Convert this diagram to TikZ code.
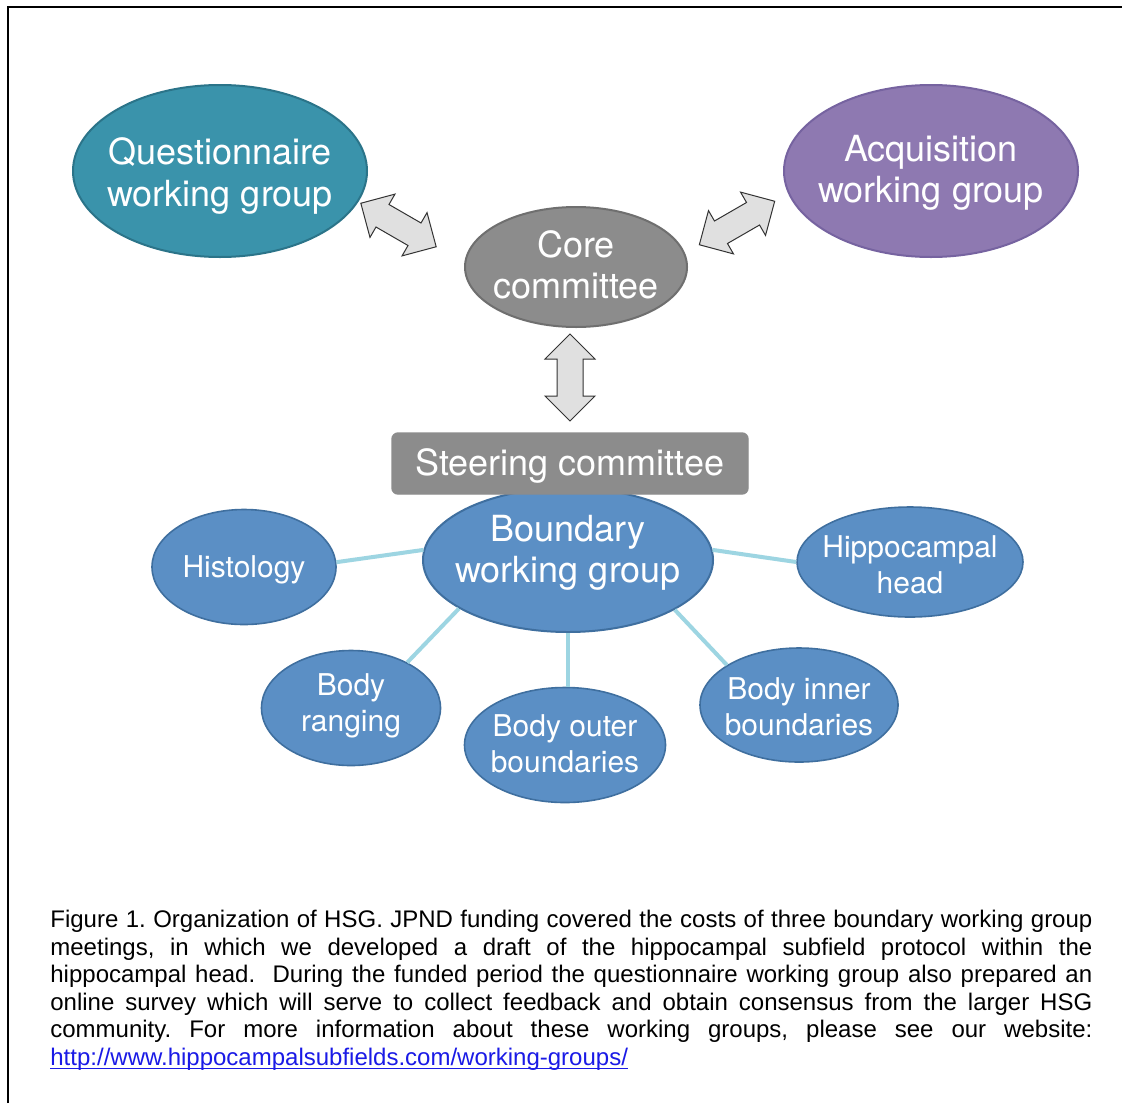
\documentclass[tikz,border=0pt]{standalone}
\usepackage{fontspec}
\setmainfont{Liberation Sans}
\newfontfamily\nodefont{TeX Gyre Heros}
\usetikzlibrary{shapes.geometric}
\definecolor{qfill}{HTML}{3A93AB}
\definecolor{qdraw}{HTML}{2B7489}
\definecolor{afill}{HTML}{8E79B1}
\definecolor{adraw}{HTML}{7663A0}
\definecolor{gfill}{HTML}{8C8C8C}
\definecolor{gdraw}{HTML}{6F6F6F}
\definecolor{bfill}{HTML}{5B8FC5}
\definecolor{bdraw}{HTML}{3F6F9F}
\definecolor{linkc}{HTML}{9DD5E2}
\definecolor{arrfill}{HTML}{E0E0E0}
\definecolor{urlc}{HTML}{1A1AE6}
\tikzset{
  bigell/.style={ellipse, line width=1pt, inner sep=0pt},
  smallell/.style={ellipse, line width=0.8pt, inner sep=0pt, fill=bfill, draw=bdraw},
  bigtxt/.style={inner sep=0pt, align=center, text=white,
    font=\nodefont\fontsize{18}{20.7}\selectfont},
  smalltxt/.style={inner sep=0pt, align=center, text=white,
    font=\nodefont\fontsize{15}{18}\selectfont},
  linkline/.style={draw=linkc, line width=2pt},
  arrstyle/.style={draw=black!80, fill=arrfill, line width=0.5pt, line join=miter},
  dblarrow/.pic={\path[arrstyle] (-43.5,0) -- (-18.5,25) -- (-18.5,13) -- (18.5,13) -- (18.5,25) -- (43.5,0) -- (18.5,-25) -- (18.5,-13) -- (-18.5,-13) -- (-18.5,-25) -- cycle;}
}
\begin{document}
\begin{tikzpicture}[x=0.5pt,y=-0.5pt]
\useasboundingbox (0,0) rectangle (1122,1103);
\fill[white] (0,0) rectangle (1122,1103);
\draw[line width=1pt] (8,1103) -- (8,7) -- (1122,7);

% top ellipses
\node[bigell, fill=qfill, draw=qdraw, minimum width=147pt, minimum height=86pt] (quest) at (220,171) {};
\node[bigtxt, yshift=-2.5pt] (questT) at (quest.center) {Questionnaire\\working group};
\node[bigell, fill=afill, draw=adraw, minimum width=147pt, minimum height=86pt] (acq) at (931,171) {};
\node[bigtxt, yshift=-1pt] (acqT) at (acq.center) {Acquisition\\working group};
\node[bigell, fill=gfill, draw=gdraw, minimum width=111pt, minimum height=60pt] (core) at (576,267) {};
\node[bigtxt, yshift=1pt] (coreT) at (core.center) {Core\\committee};

% block arrows
\pic at (398.5,225) [rotate=-30] {dblarrow};
\pic at (737,223) [rotate=30] {dblarrow};
\pic at (570,377.5) [rotate=90] {dblarrow};

% boundary working group and steering committee
\node[bigell, fill=bfill, draw=bdraw, minimum width=145pt, minimum height=72pt] (bwg) at (568,560) {};
\node[bigtxt, yshift=3.5pt] (bwgT) at (bwg.center) {Boundary\\working group};
\node[rectangle, rounded corners=3pt, fill=gfill, draw=gdraw!80, line width=0.7pt, inner sep=0pt,
  minimum width=178pt, minimum height=30.5pt] (steer) at (570,463.5) {};
\node[bigtxt, yshift=-1pt] (steerT) at (steer.center) {Steering committee};

% small ellipses
\node[smallell, minimum width=92pt, minimum height=57.5pt] (hist) at (244,567) {};
\node[smalltxt, yshift=-1.5pt] (histT) at (hist.center) {Histology};
\node[smallell, minimum width=113pt, minimum height=55pt] (hip) at (910,562) {};
\node[smalltxt, yshift=-1.5pt] (hipT) at (hip.center) {Hippocampal\\head};
\node[smallell, minimum width=89.5pt, minimum height=57.5pt] (rang) at (351,708) {};
\node[smalltxt, yshift=1pt] (rangT) at (rang.center) {Body\\ranging};
\node[smallell, minimum width=100.5pt, minimum height=57.5pt] (outer) at (565,745) {};
\node[smalltxt, yshift=0.5pt] (outerT) at (outer.center) {Body outer\\boundaries};
\node[smallell, minimum width=99pt, minimum height=57pt] (inner) at (799,705) {};
\node[smalltxt, yshift=-1pt] (innerT) at (inner.center) {Body inner\\boundaries};

% connectors
\draw[linkline] (hist.3) -- (bwg.176);
\draw[linkline] (bwg.4) -- (hip.180);
\draw[linkline] (bwg.204) -- (rang.39);
\draw[linkline] (bwg.south) -- (bwg.south |- outer.north);
\draw[linkline] (bwg.335) -- (inner.151);

% caption
\node[anchor=north west, inner sep=0pt, text width=521pt, align=justify,
  font=\fontsize{12}{13.75}\selectfont] (cap) at (50,910) {\frenchspacing Figure 1. Organization of HSG. JPND funding covered the costs of three boundary working group\linebreak
meetings, in which we developed a draft of the hippocampal subfield protocol within the\linebreak
hippocampal head.\ \ During the funded period the questionnaire working group also prepared an\linebreak
online survey which will serve to collect feedback and obtain consensus from the larger HSG\linebreak
community. For more information about these working groups, please see our website:\linebreak
\textcolor{urlc}{\setbox0\hbox{http://www.hippocampalsubfields.com/working-groups/}\rlap{\rule[-1.6pt]{\wd0}{0.5pt}}\box0}};
\end{tikzpicture}
\end{document}
